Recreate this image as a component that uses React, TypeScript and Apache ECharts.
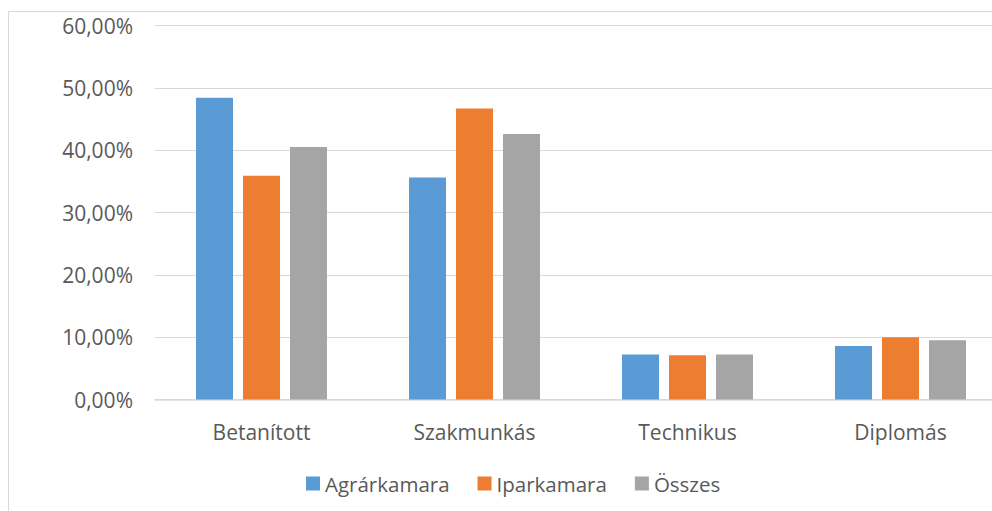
import React, { useEffect, useRef } from "react";
import * as echarts from "echarts";

const categories = ["Betanított", "Szakmunkás", "Technikus", "Diplomás"];
const seriesNames = ["Agrárkamara", "Iparkamara", "Összes"];
const agrarValues = [48.4, 35.6, 7.2, 8.6];
const iparValues = [35.9, 46.7, 7.1, 10.0];
const osszesValues = [40.5, 42.6, 7.2, 9.5];
const colors = ["#5B9BD5", "#ED7D31", "#A5A5A5"];

const FONT = "'Open Sans', 'Noto Sans', sans-serif";

export default function App() {
  const ref = useRef<HTMLDivElement>(null);
  useEffect(() => {
    if (!ref.current) return;
    const chart = echarts.init(ref.current, undefined, { renderer: "svg" });
    const values = [agrarValues, iparValues, osszesValues];
    chart.setOption({
      animation: false,
      backgroundColor: "#FFFFFF",
      textStyle: { fontFamily: FONT },
      graphic: [
        {
          type: "rect",
          shape: { x: 8.5, y: 11.5, width: 1100, height: 700 },
          style: { fill: "none", stroke: "#D9D9D9", lineWidth: 1 },
          silent: true,
          z: -1,
        },
      ],
      grid: {
        left: 155,
        width: 852,
        top: 25.5,
        bottom: 111.5,
        containLabel: false,
        outerBoundsMode: "none",
      },
      legend: {
        data: seriesNames,
        left: 301,
        top: 468,
        itemWidth: 14,
        itemHeight: 14,
        itemGap: 28,
        icon: "rect",
        textStyle: { color: "#595959", fontSize: 20.5, fontFamily: FONT },
      },
      xAxis: {
        type: "category",
        data: categories,
        axisLine: { show: true, lineStyle: { color: "#D9D9D9", width: 1.5 } },
        axisTick: { show: false },
        axisLabel: { color: "#595959", fontSize: 21, margin: 22, fontFamily: FONT },
      },
      yAxis: {
        type: "value",
        min: 0,
        max: 60,
        interval: 10,
        axisLine: { show: false },
        axisTick: { show: false },
        splitLine: { lineStyle: { color: "#D9D9D9", width: 1 } },
        axisLabel: {
          color: "#595959",
          fontSize: 21,
          margin: 22,
          fontFamily: FONT,
          formatter: (v: number) => v.toFixed(2).replace(".", ",") + "%",
        },
      },
      series: seriesNames.map((name, i) => ({
        name,
        type: "bar",
        data: values[i],
        barWidth: 37,
        barGap: "27%",
        itemStyle: { color: colors[i] },
      })),
    });
    return () => chart.dispose();
  }, []);
  return (
    <div
      ref={ref}
      style={{ position: "fixed", left: 0, top: 0, width: 992, height: 511 }}
    />
  );
}
